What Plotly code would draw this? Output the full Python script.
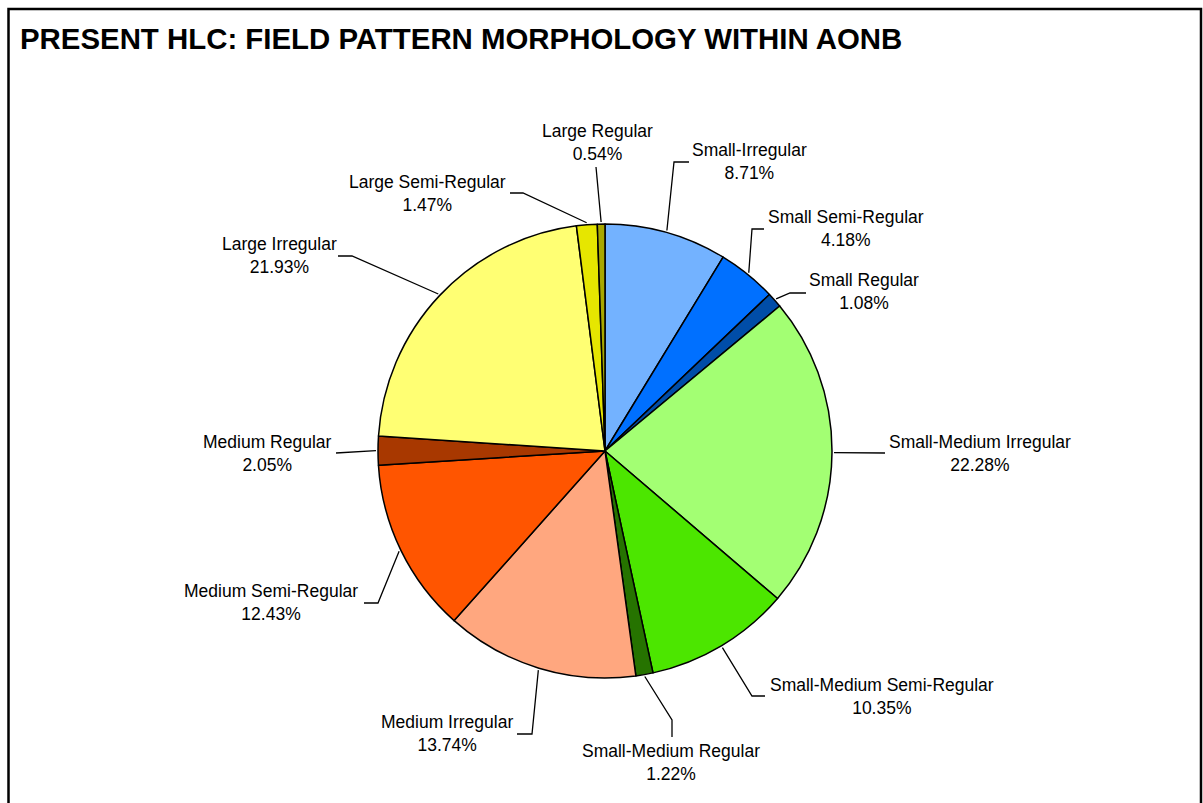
import math
import plotly.graph_objects as go

# ---- data ----
categories = [
    "Small-Irregular", "Small Semi-Regular", "Small Regular",
    "Small-Medium Irregular", "Small-Medium Semi-Regular", "Small-Medium Regular",
    "Medium Irregular", "Medium Semi-Regular", "Medium Regular",
    "Large Irregular", "Large Semi-Regular", "Large Regular",
]
values = [8.71, 4.18, 1.08, 22.28, 10.35, 1.22, 13.74, 12.43, 2.05, 21.93, 1.47, 0.54]
colors = [
    "#73B2FF", "#0070FF", "#004DA8",
    "#A3FF73", "#4CE600", "#267300",
    "#FFA77F", "#FF5500", "#A83800",
    "#FFFF73", "#E6E600", "#A8A800",
]
title = "PRESENT HLC: FIELD PATTERN MORPHOLOGY WITHIN AONB"

# ---- layout (screen pixel geometry) ----
W, H = 1203, 803
CX, CY, R = 605, 451, 227
# label text centres
label_x = [749, 846, 864, 980, 882, 671, 447, 271, 267, 279, 427, 597]
label_y = [161.5, 228, 291.5, 453.5, 696, 762.5, 733, 602.5, 453.5, 255, 193.5, 142]
# leader line: anchor (slice edge) -> elbow -> end
elbow_x = [674, 752, 790, 885, 752, 672, 532, 378, 336, 352, 523, 596]
elbow_y = [162, 229, 293, 453, 696, 720, 734, 603, 453, 256, 193, 167]
end_x = [689, 764, 806, 885, 765, 672, 517, 364, 336, 338, 510, 596]
end_y = [162, 229, 293, 453, 696, 737, 734, 603, 453, 256, 193, 167]

fig = go.Figure()

fig.add_trace(go.Pie(
    labels=categories, values=values, sort=False, direction="clockwise",
    rotation=0, textinfo="none", hoverinfo="skip",
    marker=dict(colors=colors, line=dict(color="black", width=1.5)),
    domain=dict(x=[(CX - R) / W, (CX + R) / W],
                y=[(H - CY - R) / H, (H - CY + R) / H]),
    showlegend=False,
))

# leader lines computed from slice mid-angles
total = sum(values)
cum = 0.0
lx, ly = [], []
for i, v in enumerate(values):
    mid = (cum + v / 2) / total * 2 * math.pi
    cum += v
    ax = CX + (R + 2) * math.sin(mid)
    ay = CY - (R + 2) * math.cos(mid)
    lx += [ax, elbow_x[i], end_x[i], None]
    ly += [ay, elbow_y[i], end_y[i], None]

fig.add_trace(go.Scatter(x=lx, y=ly, mode="lines",
                         line=dict(color="black", width=1.3),
                         hoverinfo="skip", showlegend=False))

annotations = []
for i, (c, v) in enumerate(zip(categories, values)):
    annotations.append(dict(
        x=label_x[i], y=label_y[i], xref="x", yref="y",
        text=f"{c}<br>{v:.2f}%", showarrow=False,
        xanchor="center", yanchor="middle", align="center",
        font=dict(family="Liberation Sans, Arial, sans-serif", size=17.5, color="black"),
    ))
annotations.append(dict(
    x=18, y=38, xref="x", yref="y", text=f"<b>{title}</b>", showarrow=False,
    xanchor="left", yanchor="middle",
    font=dict(family="Liberation Sans, Arial, sans-serif", size=29.4, color="black"),
))

fig.update_layout(
    width=W, height=H,
    margin=dict(l=0, r=0, t=0, b=0),
    paper_bgcolor="white", plot_bgcolor="white",
    xaxis=dict(range=[0, W], visible=False, fixedrange=True, domain=[0, 1]),
    yaxis=dict(range=[H, 0], visible=False, fixedrange=True, domain=[0, 1]),
    annotations=annotations,
    shapes=[dict(type="rect", xref="x", yref="y", x0=8.5, y0=9, x1=1201, y1=815,
                 line=dict(color="black", width=2.5))],
    hovermode=False,
)

fig.write_html(
    "out.html",
    config={"staticPlot": True},
    post_script="document.body.style.margin='0';document.body.style.overflow='hidden';",
)
